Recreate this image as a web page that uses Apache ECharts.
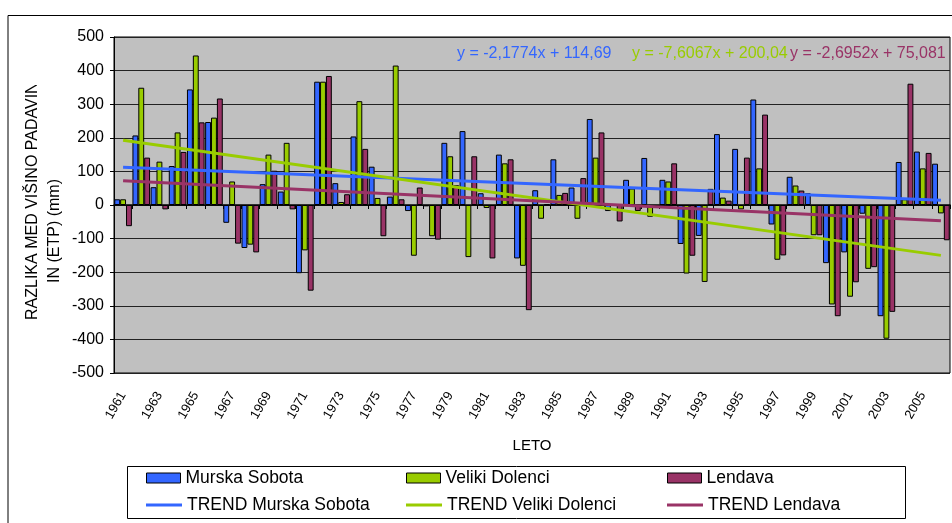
<!DOCTYPE html>
<html>
<head>
<meta charset="utf-8">
<script src="https://cdn.jsdelivr.net/npm/echarts@6/dist/echarts.min.js"></script>
<style>
  html, body { margin: 0; padding: 0; background: #fff; }
  #chart { width: 952px; height: 523px; }
</style>
</head>
<body>
<div id="chart"></div>
<script>
const years = ['1961', '1962', '1963', '1964', '1965', '1966', '1967', '1968', '1969', '1970',
  '1971', '1972', '1973', '1974', '1975', '1976', '1977', '1978', '1979', '1980',
  '1981', '1982', '1983', '1984', '1985', '1986', '1987', '1988', '1989', '1990',
  '1991', '1992', '1993', '1994', '1995', '1996', '1997', '1998', '1999', '2000',
  '2001', '2002', '2003', '2004', '2005', '2006'];

const murskaSobota = [17, 207, 53, 116, 344, 247, -53, -128, 62, 40,
  -203, 367, 65, 204, 114, 25, -18, -4, 185, 220,
  35, 150, -159, 44, 136, 52, 256, -18, 75, 140,
  75, -116, -92, 211, 167, 314, -58, 84, 35, -173,
  -141, -26, -331, 128, 159, 123];

const velikiDolenci = [17, 349, 129, 216, 445, 260, 70, -118, 150, 185,
  -135, 367, 9, 309, 21, 415, -151, -93, 145, -155,
  -9, 124, -181, -41, 30, -41, 141, -3, 49, -35,
  70, -204, -229, 22, -13, 109, -163, 58, -90, -296,
  -273, -190, -398, 17, 109, -25];

const lendava = [-63, 141, -13, 158, 246, 317, -115, -141, 102, -13,
  -255, 384, 32, 167, -93, 17, 52, -103, 59, 145,
  -159, 136, -313, 3, 36, 80, 216, -49, -18, -3,
  124, -151, 48, 13, 141, 269, -150, 43, -90, -331,
  -230, -185, -318, 361, 155, -105];

// trend line ends (first and last year)
const trendMurska = [112.5, 14.5];
const trendVeliki = [192.4, -149.9];
const trendLendava = [72.4, -46.9];

const equations = ['y = -2,1774x + 114,69', 'y = -7,6067x + 200,04', 'y = -2,6952x + 75,081'];
const yTicks = [-500, 500, 100];

const names = ['Murska Sobota', 'Veliki Dolenci', 'Lendava'];
const colors = ['#3366FF', '#99CC00', '#993366'];
const font = 'Liberation Sans, Arial, sans-serif';

const trendData = (t) => [[years[0], t[0]], [years[years.length - 1], t[1]]];

const barSeries = [murskaSobota, velikiDolenci, lendava].map((d, i) => ({
  name: names[i],
  type: 'bar',
  data: d,
  barGap: '0%',
  barCategoryGap: '3%',
  itemStyle: { color: colors[i], borderColor: '#000', borderWidth: 1 },
  emphasis: { disabled: true }
}));

const lineSeries = [trendMurska, trendVeliki, trendLendava].map((t, i) => ({
  name: 'TREND ' + names[i],
  type: 'line',
  data: trendData(t),
  symbol: 'none',
  z: 5,
  lineStyle: { color: colors[i], width: 3 },
  itemStyle: { color: colors[i] }
}));

const legendCols = [146, 406, 667];
const legendRows = [469, 496];
const legends = [];
names.forEach((n, i) => {
  legends.push({
    data: [n], left: legendCols[i], top: legendRows[0], padding: 0,
    icon: 'rect', itemWidth: 34, itemHeight: 10, itemGap: 0,
    itemStyle: { borderColor: '#000', borderWidth: 1 },
    textStyle: { fontFamily: font, fontSize: 17.5, color: '#000' },
    selectedMode: false
  });
  legends.push({
    data: ['TREND ' + n], left: legendCols[i], top: legendRows[1], padding: 0,
    icon: 'rect', itemWidth: 36, itemHeight: 3, itemGap: 0,
    itemStyle: { color: colors[i], borderWidth: 0 },
    textStyle: { fontFamily: font, fontSize: 17.5, color: '#000' },
    selectedMode: false
  });
});

const chart = echarts.init(document.getElementById('chart'));
chart.setOption({
  backgroundColor: '#fff',
  animation: false,
  legend: legends,
  grid: {
    left: 114, right: 2, top: 37, bottom: 150,
    show: true, backgroundColor: '#C0C0C0', borderColor: '#000', borderWidth: 1
  },
  xAxis: [{
    type: 'category',
    data: years,
    position: 'bottom',
    axisLine: { onZero: true, lineStyle: { color: '#000', width: 1.5 } },
    axisTick: { show: true, interval: 0, length: 4, lineStyle: { color: '#000' } },
    axisLabel: { show: false },
    splitLine: { show: false }
  }, {
    type: 'category',
    data: years,
    position: 'bottom',
    axisLine: { show: false, onZero: false },
    axisTick: { show: false },
    axisLabel: {
      interval: 1, rotate: 60, margin: 20,
      fontFamily: font, fontSize: 13, color: '#000'
    }
  }],
  yAxis: {
    type: 'value',
    min: yTicks[0], max: yTicks[1], interval: yTicks[2],
    axisLine: { show: true, lineStyle: { color: '#000' } },
    axisTick: { show: true, length: 4, lineStyle: { color: '#000' } },
    axisLabel: { margin: 10, fontFamily: font, fontSize: 16, color: '#000' },
    splitLine: { lineStyle: { color: '#222', width: 1 } }
  },
  series: barSeries.concat(lineSeries),
  graphic: [
    { type: 'polyline', shape: { points: [[8, 523], [8, 15.5], [952, 15.5]] }, style: { stroke: '#000', fill: null, lineWidth: 1 } },
    { type: 'rect', shape: { x: 127.5, y: 466.5, width: 778, height: 52 }, style: { stroke: '#000', fill: null, lineWidth: 1 } },
    { type: 'text', x: 33, y: 320, rotation: Math.PI / 2,
      style: { text: 'RAZLIKA MED VIŠINO PADAVIN', fontFamily: font, fontSize: 16, fill: '#000', textAlign: 'left', textVerticalAlign: 'middle' } },
    { type: 'rect', z: 10, shape: { x: 18, y: 20, width: 30, height: 65 }, style: { fill: '#fff' } },
    { type: 'text', x: 55, y: 283, rotation: Math.PI / 2,
      style: { text: 'IN (ETP) (mm)', fontFamily: font, fontSize: 16, fill: '#000', textAlign: 'left', textVerticalAlign: 'middle' } },
    { type: 'text', x: 532, y: 446,
      style: { text: 'LETO', fontFamily: font, fontSize: 15, fill: '#000', textAlign: 'center', textVerticalAlign: 'middle' } },
    { type: 'text', x: 457, y: 54, z: 20,
      style: { text: equations[0], fontFamily: font, fontSize: 16, fill: colors[0], textAlign: 'left', textVerticalAlign: 'middle' } },
    { type: 'text', x: 632, y: 54, z: 20,
      style: { text: equations[1], fontFamily: font, fontSize: 16, fill: colors[1], textAlign: 'left', textVerticalAlign: 'middle' } },
    { type: 'text', x: 790, y: 54, z: 20,
      style: { text: equations[2], fontFamily: font, fontSize: 16, fill: colors[2], textAlign: 'left', textVerticalAlign: 'middle' } }
  ]
});
</script>
</body>
</html>
